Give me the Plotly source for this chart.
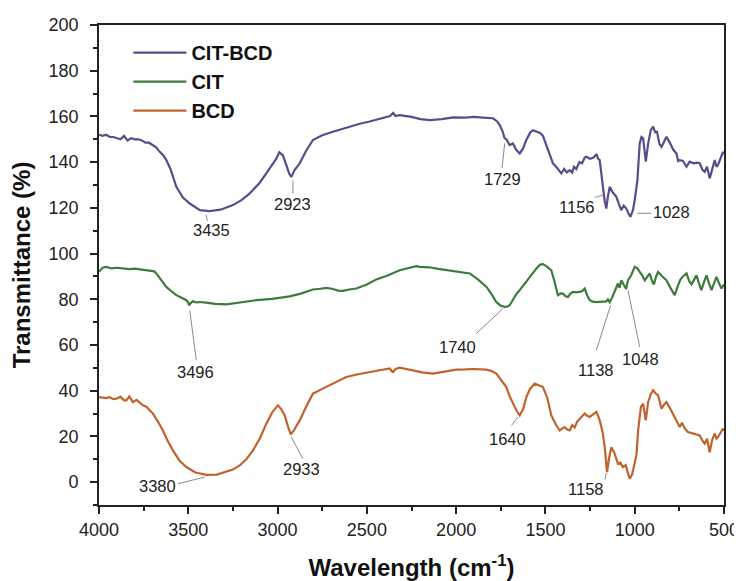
import plotly.graph_objects as go

# ---------------- data ----------------
cit_bcd_w = [4000, 3980, 3960, 3940, 3920, 3900, 3880, 3860, 3840, 3820, 3800, 3780, 3760, 3740, 3720, 3700,
             3680, 3660, 3640, 3623, 3600, 3567, 3530, 3492, 3435, 3380, 3320, 3250, 3200, 3156, 3100, 3063,
             3030, 3007, 2990, 2970, 2950, 2935, 2923, 2905, 2876, 2840, 2802, 2750, 2690, 2640, 2596, 2540,
             2484, 2420, 2370, 2353, 2340, 2316, 2250, 2200, 2148, 2080, 2017, 1950, 1900, 1850, 1794, 1770,
             1756, 1740, 1729, 1719, 1700, 1682, 1665, 1644, 1625, 1607, 1585, 1570, 1545, 1530, 1514, 1490,
             1458, 1440, 1411, 1395, 1380, 1364, 1350, 1340, 1327, 1310, 1295, 1280, 1271, 1250, 1230, 1214,
             1205, 1196, 1185, 1178, 1168, 1159, 1150, 1140, 1125, 1103, 1090, 1075, 1062, 1047, 1035, 1024,
             1010, 1000, 985, 972, 962, 953, 945, 938, 925, 910, 897, 885, 875, 862, 850, 835, 822, 800, 785,
             766, 757, 748, 730, 710, 700, 692, 670, 650, 636, 620, 608, 595, 580, 565, 552, 542, 534, 520,
             506, 500]
cit_bcd_t = [152, 151.5, 152, 151, 151, 150.5, 150, 151.5, 149.5, 150.5, 150, 150, 149.5, 148.5, 148.5, 147.5,
             146.5, 144.5, 143, 140.9, 137, 129.2, 124.5, 121.9, 119, 118.6, 119.2, 121.2, 123.5, 126.3, 131,
             135.1, 139, 141.5, 144.3, 143, 138.5, 135, 133.5, 136.5, 139.5, 145, 149.7, 151.8, 153.3, 154.5,
             155.8, 156.8, 157.8, 159, 160.2, 161.5, 160.2, 160.6, 159.8, 158.8, 158.4, 158.8, 159.6, 159.5,
             159.8, 159.5, 159.2, 157.8, 156.2, 153.5, 150.5, 150, 147.5, 148.2, 145.5, 143.8, 146, 149.7, 153,
             154, 153.2, 152.8, 151.5, 146, 139.5, 138, 135.1, 137, 135.5, 136.5, 135.5, 138, 137, 140, 139.5,
             142, 142.4, 141.5, 142, 143.5, 141.5, 140.9, 135, 129.2, 123, 119.7, 125, 129.2, 127, 124.8, 122,
             119, 121, 119.7, 117.5, 116.1, 119, 123.4, 132, 148.2, 151, 150.4, 145, 140.2, 148, 154, 155.5,
             153, 153.3, 148, 146.7, 149.5, 151.1, 148, 145.5, 143.8, 140.5, 140.9, 140.5, 138, 139.5, 140.2,
             139.5, 139.8, 139.5, 136.5, 135.8, 138, 132.9, 137, 140.9, 138, 138.7, 141.5, 144.5, 143.5]

cit_w = [4000, 3980, 3959, 3930, 3900, 3866, 3830, 3800, 3760, 3716, 3690, 3679, 3650, 3623, 3590, 3567,
         3540, 3511, 3500, 3496, 3485, 3474, 3455, 3436, 3400, 3350, 3287, 3200, 3119, 3030, 2932, 2870,
         2802, 2760, 2727, 2690, 2660, 2633, 2600, 2559, 2500, 2447, 2380, 2316, 2260, 2223, 2204, 2150,
         2100, 2018, 1970, 1924, 1880, 1830, 1800, 1775, 1750, 1728, 1715, 1700, 1680, 1665, 1644, 1620,
         1588, 1550, 1530, 1514, 1495, 1480, 1467, 1450, 1430, 1415, 1402, 1388, 1374, 1360, 1346, 1325,
         1308, 1295, 1280, 1268, 1252, 1235, 1215, 1190, 1159, 1150, 1140, 1125, 1112, 1103, 1094, 1085,
         1075, 1062, 1048, 1038, 1020, 1000, 985, 972, 958, 944, 930, 916, 905, 893, 880, 869, 845, 822,
         800, 776, 760, 745, 730, 710, 695, 682, 668, 654, 640, 627, 612, 598, 584, 570, 556, 542, 528,
         514, 500]
cit_t = [92, 93.8, 94.2, 93.5, 93.8, 93.5, 93.2, 93.4, 93, 92.7, 92.2, 91.3, 88.5, 85.4, 83.2, 81.8,
         80.8, 79.6, 78.6, 77.4, 78.5, 79.1, 78.6, 78.8, 78.5, 78, 77.8, 78.8, 79.6, 80.2, 81.3, 82.5,
         84.3, 84.6, 85.0, 84.5, 83.8, 83.7, 84.3, 84.7, 86.5, 88.7, 90.5, 92.7, 93.8, 94.5, 94.2, 94,
         93.3, 92.4, 92, 91.3, 88.8, 85.4, 82, 78.8, 77.2, 76.7, 76.8, 77.4, 80, 82, 84, 86.5,
         89.8, 93.5, 95.2, 95.4, 94.5, 93.5, 92.7, 88, 81.8, 82.6, 82.5, 81.3, 81, 82.5, 83.2, 83,
         83.2, 83.5, 84.7, 82, 79.6, 79, 78.8, 78.8, 79.1, 80, 78.8, 81, 83.2, 85.5, 86.9, 85,
         88.3, 86.5, 84.5, 88.3, 90.5, 94.2, 93.5, 92, 90.5, 88.3, 90, 91.3, 88.5, 86.5, 90, 92, 90, 88.3,
         85, 81.8, 85.5, 88.5, 90, 91.3, 88, 86.5, 88.5, 90.5, 87, 84, 87.5, 90.5, 87, 84, 87, 89.8, 87,
         84.7, 86.5]

bcd_w = [4000, 3980, 3960, 3940, 3920, 3903, 3880, 3860, 3847, 3830, 3810, 3790, 3770, 3754, 3735, 3715,
         3698, 3670, 3642, 3615, 3586, 3550, 3511, 3460, 3399, 3340, 3287, 3250, 3212, 3175, 3138, 3100,
         3063, 3030, 3010, 2998, 2980, 2960, 2940, 2926, 2910, 2876, 2840, 2802, 2750, 2708, 2660, 2615,
         2550, 2484, 2420, 2372, 2360, 2353, 2340, 2316, 2250, 2190, 2130, 2060, 1999, 1950, 1900, 1831,
         1800, 1775, 1750, 1719, 1700, 1682, 1660, 1644, 1625, 1607, 1585, 1560, 1540, 1514, 1490, 1467,
         1440, 1420, 1405, 1392, 1378, 1364, 1350, 1336, 1322, 1308, 1280, 1266, 1252, 1235, 1215, 1205,
         1196, 1180, 1168, 1155, 1145, 1131, 1115, 1094, 1080, 1066, 1050, 1040, 1028, 1014, 1000, 990,
         981, 965, 953, 945, 938, 925, 910, 897, 885, 869, 850, 835, 822, 800, 776, 765, 748, 735, 720,
         702, 680, 660, 636, 620, 608, 595, 580, 566, 552, 542, 534, 520, 506, 500]
bcd_t = [37.2, 37, 36.8, 37.2, 36.3, 36.5, 37.4, 35.8, 35.8, 37.5, 35, 36, 34.5, 33.6, 33, 31.5,
         30, 26.5, 22.6, 18, 13.9, 9.5, 6.6, 4.2, 3.2, 3.3, 4.4, 5.5, 7.3, 10, 13.9, 19,
         25.6, 30.5, 32.5, 33.6, 32, 29.2, 24, 20.9, 22.5, 27, 33, 38.7, 40.8, 42.4, 44, 46,
         47.2, 48.2, 49.2, 49.7, 48.5, 48.2, 49.5, 50.1, 49, 48, 47.5, 48.5, 49.2, 49.3, 49.5, 49.2,
         48.6, 47.5, 45, 41.6, 37.5, 34.3, 31, 29.2, 32, 37.2, 41, 43.1, 42.5, 41.6, 37, 29.2,
         25, 22.6, 23.5, 24.1, 23, 22.6, 25, 24, 26.5, 27.8, 30, 29, 28.5, 29.5, 30.7, 29,
         27, 22, 15.3, 4.4, 10, 15.3, 13, 8.1, 8.5, 6.6, 7.5, 4.5, 1.5, 3.5, 8.1, 12,
         22.6, 33, 34.3, 30, 27, 35, 38.5, 40.2, 39, 38, 32.1, 34, 35, 32, 28.5, 26.5, 24.1, 26, 23.5,
         21.9, 21.5, 21, 20.4, 18, 16.8, 19, 13.1, 18.5, 21.2, 19, 19.7, 21.5, 23.4, 22.5]

assert len(cit_bcd_w) == len(cit_bcd_t), (len(cit_bcd_w), len(cit_bcd_t))
assert len(cit_w) == len(cit_t), (len(cit_w), len(cit_t))
assert len(bcd_w) == len(bcd_t), (len(bcd_w), len(bcd_t))

series_names = ["CIT-BCD", "CIT", "BCD"]
series_colors = ["#5b4b8b", "#3b7c3b", "#c2622c"]

# peak labels: text, text position (wavenumber, value), leader line (w0, v0, w1, v1)
peak_labels = ["3435", "2923", "1729", "1156", "1028", "3496", "1740", "1138", "1048",
               "1640", "1158", "2933", "3380"]
label_w = [3370, 2914, 1743, 1327, 795, 3459, 1995, 1218, 968, 1715, 1275, 2867, 3670]
label_v = [110.2, 121.6, 132.6, 120.2, 118.0, 48.2, 59.1, 48.9, 54.0, 18.7, -2.9, 5.6, -1.7]
leader_w0 = [3400, 2914, 1728, 1224, 985, 3492, 1738, 1135, 1038, 1654, 1159, 2923, 3558]
leader_v0 = [117, 132, 148.2, 124.6, 117.6, 75.2, 75.9, 77.4, 84.0, 28.5, 4.0, 19.7, -0.7]
leader_w1 = [3393, 2914, 1743, 1174, 907, 3455, 1887, 1215, 972, 1690, 1166, 2858, 3408]
leader_v1 = [114.3, 126.3, 137.5, 125.6, 117.6, 53.3, 65.0, 57.7, 59.1, 24.8, 1.2, 10.2, 2.2]

FONT = "Liberation Sans, Arial, sans-serif"

fig = go.Figure()
for name, w, t, c in zip(series_names, [cit_bcd_w, cit_w, bcd_w], [cit_bcd_t, cit_t, bcd_t], series_colors):
    fig.add_trace(go.Scatter(x=w, y=t, mode="lines", name=name,
                             line=dict(color=c, width=2.2)))

for txt, x, y in zip(peak_labels, label_w, label_v):
    fig.add_annotation(x=x, y=y, xref="x", yref="y", text=txt, showarrow=False,
                       xanchor="center", yanchor="middle", yshift=0,
                       font=dict(family=FONT, size=16.5, color="#222222"))
for x0, y0, x1, y1 in zip(leader_w0, leader_v0, leader_w1, leader_v1):
    fig.add_shape(type="line", xref="x", yref="y", x0=x0, y0=y0, x1=x1, y1=y1,
                  line=dict(color="#8a8a8a", width=1))

# the page body adds an 8px offset; size the figure so the plot lands where the reference has it
fig.update_layout(
    width=734, height=573,
    margin=dict(l=91, r=18, t=17, b=76),
    paper_bgcolor="white", plot_bgcolor="white",
    font=dict(family=FONT, color="#222222"),
    showlegend=True,
    legend=dict(x=0.047, y=0.983, xanchor="left", yanchor="top",
                bgcolor="rgba(0,0,0,0)", borderwidth=0, itemwidth=53,
                font=dict(family=FONT, size=20, color="#111111", weight="bold"),
                tracegroupgap=0),
)
fig.update_xaxes(
    range=[4000, 500], autorange=False, automargin=False,
    tickmode="linear", tick0=500, dtick=500,
    ticks="outside", ticklen=7, tickwidth=1.5, tickcolor="#222",
    minor=dict(ticks="outside", ticklen=4, tickwidth=1.5, tickcolor="#222", dtick=250, tick0=500),
    showline=True, linecolor="#222", linewidth=1.8, mirror=True,
    showgrid=False, zeroline=False,
    tickfont=dict(family=FONT, size=18, color="#222"),
    ticklabelstandoff=0,
    title=dict(text="<b>Wavelength (cm<sup>-1</sup>)</b>",
               font=dict(family=FONT, size=24, color="#111"), standoff=21),
)
fig.update_yaxes(
    range=[-10, 200], autorange=False, automargin=False,
    tickmode="linear", tick0=0, dtick=20,
    ticks="outside", ticklen=7, tickwidth=1.5, tickcolor="#222",
    minor=dict(ticks="outside", ticklen=4, tickwidth=1.5, tickcolor="#222", dtick=10, tick0=0),
    showline=True, linecolor="#222", linewidth=1.8, mirror=True,
    showgrid=False, zeroline=False,
    tickfont=dict(family=FONT, size=18, color="#222"),
    ticklabelstandoff=8,
    title=dict(text="<b>Transmittance (%)</b>",
               font=dict(family=FONT, size=24, color="#111"), standoff=12),
)

fig.write_html("out.html")
